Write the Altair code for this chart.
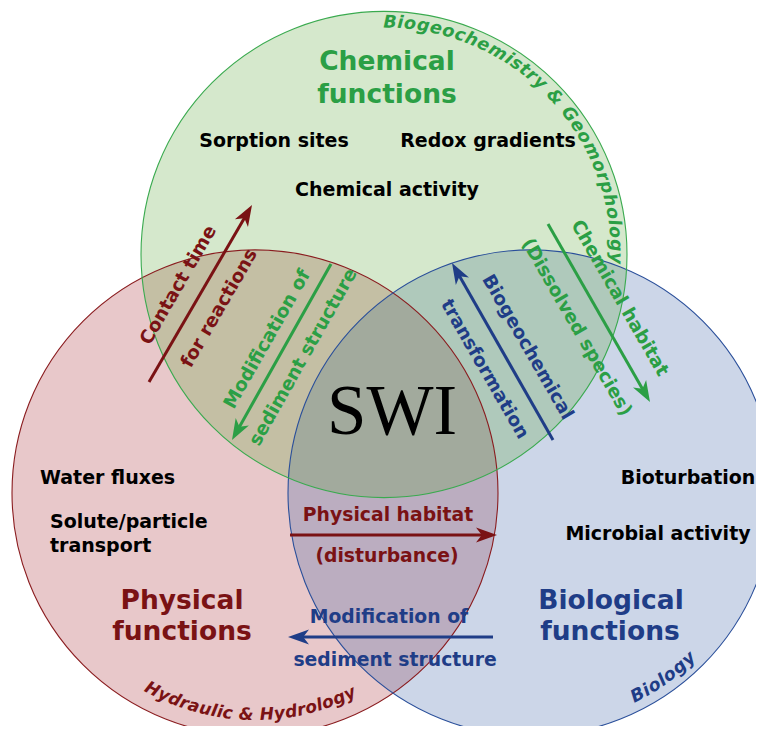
import math
import altair as alt
import pandas as pd

# ---------------- circles (pixel coordinates) ----------------
circle_name = ["Physical", "Biological", "Chemical"]
circle_cx = [255, 531, 384]
circle_cy = [493, 493, 254.5]
circle_r = [243, 243, 243]
circle_fill = ["#a3232b", "#335ba3", "#57a333"]
circle_stroke = ["#8a1c1f", "#2a4f9a", "#3aaa4f"]

GREEN = "#2b9f45"
RED = "#7a1214"
BLUE = "#1f3d87"

# ---------------- straight labels (centre aligned, bold) ----------------
lab_text = ["Chemical", "functions", "Sorption sites", "Redox gradients", "Chemical activity",
            "Physical", "functions", "Biological", "functions",
            "Bioturbation", "Microbial activity",
            "Physical habitat", "(disturbance)",
            "Modification of", "sediment structure",
            "Contact time", "for reactions",
            "Modification of", "sediment structure",
            "Biogeochemical", "transformation",
            "Chemical habitat", "(Dissolved species)"]
lab_x = [387, 387, 274, 488, 387,
         182, 182, 611, 610,
         688, 658,
         388, 387,
         389, 395,
         178, 219,
         267, 303,
         528, 485,
         620, 577]
lab_y = [62, 95, 141, 141, 190,
         601, 632, 601, 632,
         478, 534,
         515, 556,
         617, 660,
         285, 308,
         339, 357,
         347, 369,
         298, 327]
lab_angle = [0, 0, 0, 0, 0,
             0, 0, 0, 0,
             0, 0,
             0, 0,
             0, 0,
             300, 300,
             299.5, 299.5,
             60, 60,
             60, 60]
lab_size = [26.5, 26.5, 19, 19, 19,
            26.5, 26.5, 26.5, 26.5,
            19, 19,
            18.8, 18.8,
            18.8, 18.8,
            18.5, 18.5,
            18.5, 18.5,
            18.5, 18.5,
            18.5, 18.5]
lab_color = [GREEN, GREEN, "#000000", "#000000", "#000000",
             RED, RED, BLUE, BLUE,
             "#000000", "#000000",
             RED, RED,
             BLUE, BLUE,
             RED, RED,
             GREEN, GREEN,
             BLUE, BLUE,
             GREEN, GREEN]

# left aligned labels
left_text = ["Water fluxes", "Solute/particle", "transport"]
left_x = [40, 50, 50]
left_y = [478, 522, 546]

# ---------------- arrows (tail -> tip) ----------------
arrow_x1 = [149, 331, 553, 548, 290, 493]
arrow_y1 = [382, 264, 440, 224, 535, 637]
arrow_x2 = [252, 232, 452, 650, 497, 288]
arrow_y2 = [205, 440, 263, 402, 535, 637]
arrow_color = [RED, GREEN, BLUE, GREEN, RED, BLUE]

# ---------------- curved labels ----------------
curve_text = ["Biogeochemistry & Geomorphology", "Hydraulic & Hydrology", "Biology"]
curve_circle = [2, 0, 1]
curve_radius = [232, 222, 229]
curve_start = [1.5, 207.6, 152.2]
curve_end = [90.9, 154.7, 136.4]
curve_color = [GREEN, RED, BLUE]
curve_size = [17.5, 17, 17.5]

char_w = {' ': 0.348, '&': 0.872, 'B': 0.762, 'G': 0.821, 'H': 0.838, 'a': 0.675,
          'b': 0.716, 'c': 0.593, 'd': 0.716, 'e': 0.678, 'g': 0.716, 'h': 0.712,
          'i': 0.343, 'l': 0.343, 'm': 1.042, 'o': 0.687, 'p': 0.716, 'r': 0.493,
          's': 0.595, 't': 0.478, 'u': 0.712, 'y': 0.652}

# ---------------- build tables ----------------
circles = pd.DataFrame({
    "name": circle_name, "x": circle_cx, "y": circle_cy,
    # Vega symbol size = (diameter)^2 for circles
    "area": [(2 * r) ** 2 for r in circle_r],
    "fill": circle_fill, "stroke": circle_stroke,
})

labels = pd.DataFrame({"text": lab_text, "x": lab_x, "y": lab_y, "angle": lab_angle,
                       "size": lab_size, "color": lab_color})
lefts = pd.DataFrame({"text": left_text, "x": left_x, "y": left_y})

rows = []
for x1, y1, x2, y2, c in zip(arrow_x1, arrow_y1, arrow_x2, arrow_y2, arrow_color):
    dx, dy = x2 - x1, y2 - y1
    L = math.hypot(dx, dy)
    ux, uy = dx / L, dy / L
    ang = math.degrees(math.atan2(ux, -uy)) % 360
    rows.append({"x": x1, "y": y1, "xe": x2 - 11 * ux, "ye": y2 - 11 * uy,
                 "tx": x2, "ty": y2, "angle": ang, "color": c})
arrows = pd.DataFrame(rows)

crow = []
for s, ci, r, a0, a1, col, fs in zip(curve_text, curve_circle, curve_radius,
                                     curve_start, curve_end, curve_color, curve_size):
    cx, cy = circle_cx[ci], circle_cy[ci]
    widths = [char_w.get(ch, 0.65) for ch in s]
    pos, acc = [], 0.0
    for w in widths:
        pos.append(acc + w / 2)
        acc += w
    span = pos[-1] - pos[0]
    bottom = a0 > a1
    for ch, p in zip(s, pos):
        th = a0 + (a1 - a0) * (p - pos[0]) / span
        t = math.radians(th)
        crow.append({"ch": ch, "x": cx + r * math.sin(t), "y": cy - r * math.cos(t),
                     "angle": ((th - 180) if bottom else th) % 360, "color": col,
                     "size": fs})
curved = pd.DataFrame(crow)

swi = pd.DataFrame({"text": ["SWI"], "x": [392], "y": [413]})

# ---------------- scales (data units = page pixels) ----------------
W, H = 748, 718
XS = alt.Scale(domain=[8, 8 + W], nice=False, zero=False)
YS = alt.Scale(domain=[8, 8 + H], nice=False, zero=False, reverse=True)


def X(f):
    return alt.X(f, type="quantitative", scale=XS, axis=None)


def Y(f):
    return alt.Y(f, type="quantitative", scale=YS, axis=None)


fills = alt.Chart(circles).mark_circle(opacity=0.25, clip=True).encode(
    x=X("x"), y=Y("y"),
    size=alt.Size("area:Q", scale=None),
    color=alt.Color("fill:N", scale=None),
)

rims = alt.Chart(circles).mark_circle(filled=False, opacity=1, strokeWidth=1.1, clip=True).encode(
    x=X("x"), y=Y("y"),
    size=alt.Size("area:Q", scale=None),
    stroke=alt.Stroke("stroke:N", scale=None),
)

shafts = alt.Chart(arrows).mark_rule(strokeWidth=3, strokeCap="butt").encode(
    x=X("x"), y=Y("y"), x2="xe", y2="ye",
    color=alt.Color("color:N", scale=None),
)

heads = alt.Chart(arrows).mark_point(
    shape="M0,0L0.72,2L0,1.45L-0.72,2Z", filled=True, opacity=1, size=441, strokeWidth=0
).encode(
    x=X("tx"), y=Y("ty"),
    angle=alt.Angle("angle:Q", scale=None),
    color=alt.Color("color:N", scale=None),
)

text_center = alt.Chart(labels).mark_text(
    font="DejaVu Sans", fontWeight="bold", align="center", baseline="middle"
).encode(
    x=X("x"), y=Y("y"), text="text:N",
    angle=alt.Angle("angle:Q", scale=None),
    size=alt.Size("size:Q", scale=None),
    color=alt.Color("color:N", scale=None),
)

text_left = alt.Chart(lefts).mark_text(
    font="DejaVu Sans", fontWeight="bold", align="left", baseline="middle",
    fontSize=19, color="#000000"
).encode(x=X("x"), y=Y("y"), text="text:N")

text_swi = alt.Chart(swi).mark_text(
    font="Liberation Serif", fontSize=71, align="center", baseline="middle", color="#000000"
).encode(x=X("x"), y=Y("y"), text="text:N")

text_curved = alt.Chart(curved).mark_text(
    font="DejaVu Sans", fontWeight="bold", fontStyle="italic",
    align="center", baseline="middle"
).encode(
    x=X("x"), y=Y("y"), text="ch:N",
    angle=alt.Angle("angle:Q", scale=None),
    size=alt.Size("size:Q", scale=None),
    color=alt.Color("color:N", scale=None),
)

chart = alt.layer(
    fills, rims, shafts, heads, text_center, text_left, text_swi, text_curved
).properties(
    width=W, height=H, padding=0,
    autosize=alt.AutoSizeParams(type="none"),
    background="white",
).configure_view(strokeWidth=0)

chart.save("out.html", embed_options={"renderer": "svg", "actions": False})
